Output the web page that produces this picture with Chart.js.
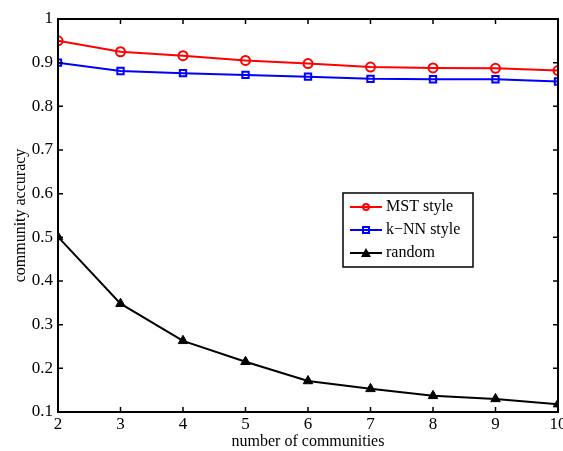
<!DOCTYPE html>
<html>
<head>
<meta charset="utf-8">
<script src="https://cdn.jsdelivr.net/npm/chart.js@4.4.0/dist/chart.umd.min.js"></script>
<style>
  body { margin: 0; background: #fff; }
  #wrap { width: 563px; height: 451px; }
</style>
</head>
<body>
<div id="wrap"><canvas id="c" width="563" height="451"></canvas></div>
<script>
// number of communities on the x axis
const communities = [2, 3, 4, 5, 6, 7, 8, 9, 10];
// accuracy per method
const mstStyle = [0.950, 0.925, 0.916, 0.905, 0.898, 0.890, 0.888, 0.887, 0.882];
const knnStyle = [0.900, 0.881, 0.876, 0.872, 0.868, 0.863, 0.862, 0.862, 0.857];
const randomPick = [0.501, 0.348, 0.263, 0.215, 0.171, 0.153, 0.137, 0.130, 0.118];
const yTicks = [0.1, 0.2, 0.3, 0.4, 0.5, 0.6, 0.7, 0.8, 0.9, 1];

const serif = "'Liberation Serif', 'Times New Roman', serif";

function toPoints(ys) {
  return communities.map((x, i) => ({ x: x, y: ys[i] }));
}

// box around the plot and inward ticks, like the matlab figure
const framePlugin = {
  id: 'frame',
  afterDatasetsDraw(chart) {
    const ctx = chart.ctx;
    const a = chart.chartArea;
    const xs = chart.scales.x, ys = chart.scales.y;
    ctx.save();
    ctx.strokeStyle = '#000';
    ctx.lineWidth = 1.5;
    ctx.beginPath();
    communities.forEach(v => {
      const px = xs.getPixelForValue(v);
      ctx.moveTo(px, a.bottom); ctx.lineTo(px, a.bottom - 5);
      ctx.moveTo(px, a.top); ctx.lineTo(px, a.top + 5);
    });
    yTicks.forEach(v => {
      const py = ys.getPixelForValue(v);
      ctx.moveTo(a.left, py); ctx.lineTo(a.left + 5, py);
      ctx.moveTo(a.right, py); ctx.lineTo(a.right - 5, py);
    });
    ctx.stroke();
    ctx.lineWidth = 2;
    ctx.strokeRect(a.left, a.top, a.right - a.left, a.bottom - a.top);
    ctx.restore();
  }
};

// legend box in the middle right of the plot
const legendPlugin = {
  id: 'boxLegend',
  afterDraw(chart) {
    const ctx = chart.ctx;
    const a = chart.chartArea;
    const bx = a.left + 285, by = a.top + 174, bw = 130, bh = 74;
    ctx.save();
    ctx.fillStyle = '#fff';
    ctx.fillRect(bx, by, bw, bh);
    ctx.strokeStyle = '#000';
    ctx.lineWidth = 1.5;
    ctx.strokeRect(bx, by, bw, bh);
    ctx.font = '16px ' + serif;
    ctx.textBaseline = 'middle';
    chart.data.datasets.forEach((ds, i) => {
      const ry = by + 14 + i * 23;
      ctx.strokeStyle = ds.borderColor;
      ctx.lineWidth = 2;
      ctx.beginPath();
      ctx.moveTo(bx + 7, ry); ctx.lineTo(bx + 39, ry);
      ctx.stroke();
      const mx = bx + 23;
      ctx.beginPath();
      if (ds.pointStyle === 'circle') {
        ctx.arc(mx, ry, 3, 0, Math.PI * 2);
        ctx.stroke();
      } else if (ds.pointStyle === 'rect') {
        ctx.rect(mx - 3, ry - 3, 6, 6);
        ctx.stroke();
      } else {
        ctx.fillStyle = ds.borderColor;
        ctx.moveTo(mx, ry - 5); ctx.lineTo(mx + 5, ry + 4); ctx.lineTo(mx - 5, ry + 4);
        ctx.closePath();
        ctx.fill();
      }
      ctx.fillStyle = '#000';
      ctx.fillText(ds.label, bx + 43, ry);
    });
    ctx.restore();
  }
};

new Chart(document.getElementById('c'), {
  type: 'line',
  data: {
    datasets: [
      {
        label: 'MST style',
        data: toPoints(mstStyle),
        borderColor: '#ff0000',
        backgroundColor: 'rgba(0,0,0,0)',
        borderWidth: 2,
        pointStyle: 'circle',
        pointRadius: 4.5,
        pointBorderWidth: 2,
        pointBackgroundColor: 'rgba(0,0,0,0)',
        pointBorderColor: '#ff0000'
      },
      {
        label: 'k\u2212NN style',
        data: toPoints(knnStyle),
        borderColor: '#0000ff',
        backgroundColor: 'rgba(0,0,0,0)',
        borderWidth: 2,
        pointStyle: 'rect',
        pointRadius: 4.5,
        pointBorderWidth: 2,
        pointBackgroundColor: 'rgba(0,0,0,0)',
        pointBorderColor: '#0000ff'
      },
      {
        label: 'random',
        data: toPoints(randomPick),
        borderColor: '#000000',
        backgroundColor: '#000000',
        borderWidth: 2,
        pointStyle: 'triangle',
        pointRadius: 5.5,
        pointBorderWidth: 1,
        pointBackgroundColor: '#000000',
        pointBorderColor: '#000000'
      }
    ]
  },
  options: {
    responsive: false,
    animation: false,
    layout: { autoPadding: false, padding: { top: 19, right: 5, left: 0, bottom: 0 } },
    plugins: { legend: { display: false }, tooltip: { enabled: false } },
    scales: {
      x: {
        type: 'linear',
        min: 2, max: 10,
        afterFit(s) { s.height = 39; s.paddingLeft = 0; s.paddingRight = 0; },
        afterBuildTicks(s) { s.ticks = communities.map(v => ({ value: v })); },
        grid: { display: false, drawTicks: false },
        border: { display: false },
        ticks: { color: '#000', font: { family: serif, size: 17 }, padding: 2, maxRotation: 0 },
        title: { display: true, text: 'number of communities', color: '#000', font: { family: serif, size: 16 }, padding: { top: -3, bottom: 0 } }
      },
      y: {
        min: 0.1, max: 1,
        afterFit(s) { s.width = 58; s.paddingTop = 0; s.paddingBottom = 0; },
        afterBuildTicks(s) { s.ticks = yTicks.map(v => ({ value: v })); },
        grid: { display: false, drawTicks: false },
        border: { display: false },
        ticks: { color: '#000', font: { family: serif, size: 17 }, padding: 5, callback: v => String(+v.toFixed(1)) },
        title: { display: true, text: 'community accuracy', color: '#000', font: { family: serif, size: 16 }, padding: { top: 11, bottom: 0 } }
      }
    }
  },
  plugins: [framePlugin, legendPlugin]
});
</script>
</body>
</html>
